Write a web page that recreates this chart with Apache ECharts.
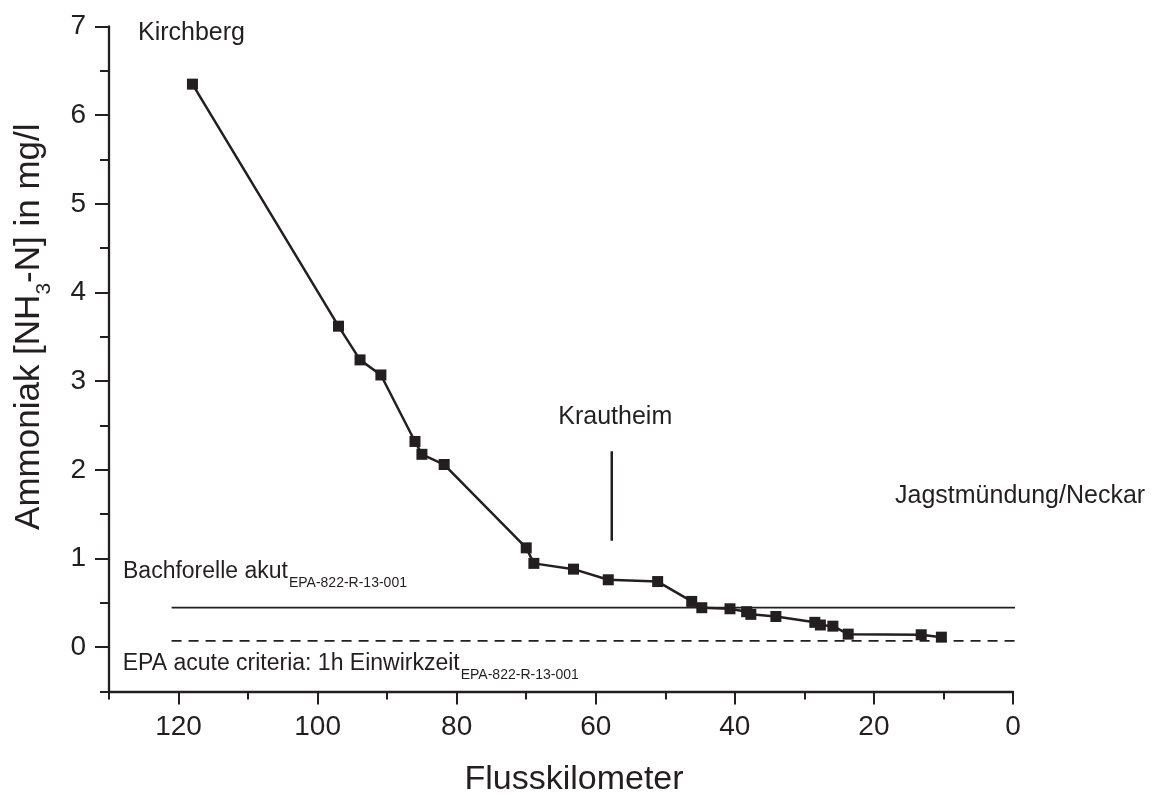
<!DOCTYPE html>
<html>
<head>
<meta charset="utf-8">
<script src="https://cdn.jsdelivr.net/npm/echarts@6/dist/echarts.min.js"></script>
<style>
html,body{margin:0;padding:0;background:#fff}
#chart{width:1168px;height:794px}
</style>
</head>
<body>
<div id="chart"></div>
<script type="text/javascript">
// Messpunkte entlang der Jagst
var km  = [118, 97.0, 93.9, 90.9, 86.0, 85.0, 81.8, 70.0, 68.9, 63.2, 58.2, 51.1, 46.2, 44.75, 40.7, 38.3, 37.7, 34.1, 28.5, 27.7, 25.9, 23.7, 13.2, 10.3];
var nh3 = [6.35, 3.62, 3.24, 3.07, 2.32, 2.175, 2.06, 1.12, 0.945, 0.88, 0.76, 0.74, 0.516, 0.445, 0.433, 0.40, 0.37, 0.346, 0.28, 0.25, 0.237, 0.147, 0.14, 0.113];

// Achsen
var xMajor = [0, 20, 40, 60, 80, 100, 120];
var xMinor = [10, 30, 50, 70, 90, 110, 130];
var yMajor = [0, 1, 2, 3, 4, 5, 6, 7];
var yMinor = [-0.5, 0.5, 1.5, 2.5, 3.5, 4.5, 5.5, 6.5];

// Markierung Krautheim
var krautheimKm = [57.7, 57.7];
var krautheimY  = [1.2, 2.21];

// Grenzwerte
var refKm = [121, -3];
var bachforelleAkut = 0.445;
var epaAcute = 0.07;

var ink = '#231f20';
var font = 'Liberation Sans, Arial, Helvetica, sans-serif';

function pairs(xs, ys) {
	return xs.map(function (x, i) { return [x, ys[i]]; });
}

// Textbreite messen (fuer die tiefgestellten Indizes)
var measureCtx = document.createElement('canvas').getContext('2d');
function textWidth(str, size) {
	measureCtx.font = size + 'px ' + font;
	return measureCtx.measureText(str).width;
}

function label(str, x, y, size, extra) {
	var el = {
		type: 'text', x: x, y: y, silent: true,
		style: {text: str, fontSize: size, fontFamily: font, fill: ink, align: 'left', verticalAlign: 'middle'}
	};
	if (extra) { for (var k in extra) el[k] = extra[k]; }
	return el;
}

// Text mit Index: Haupttext + kleiner, tiefer gesetzter Index
function labelWithSub(main, sub, x, yMain, ySub, size, subSize) {
	var w = textWidth(main, size);
	return [label(main, x, yMain, size), label(sub, x + w + 1, ySub, subSize)];
}

// y-Achsentitel, um 90 Grad gedreht
function yTitle() {
	var p1 = 'Ammoniak [NH', s = '3', p2 = '-N] in mg/l';
	var w1 = textWidth(p1, 35), ws = textWidth(s, 21), w2 = textWidth(p2, 35);
	var start = 326.7 + (w1 + ws + w2) / 2;
	var rot = {rotation: Math.PI / 2};
	return [
		label(p1, 29.6, start, 35, rot),
		label(s, 44.4, start - w1, 21, rot),
		label(p2, 29.6, start - w1 - ws, 35, rot)
	];
}

var myChart = echarts.init(document.getElementById('chart'), null, {renderer: 'canvas'});

var option = {
	animation: false,
	backgroundColor: '#fff',
	grid: {
		left: 109, right: 155, top: 26.5, bottom: 102.5,
		containLabel: false,
		outerBoundsMode: 'none'
	},
	xAxis: [
		{
			type: 'value', min: 0, max: 130, inverse: true, position: 'bottom',
			name: 'Flusskilometer', nameLocation: 'middle', nameGap: 71,
			nameMoveOverlap: false,
			nameTextStyle: {fontSize: 34, color: ink, fontFamily: font, padding: [0, 0, 0, 26]},
			axisLine: {show: true, onZero: false, lineStyle: {color: ink, width: 2.3}},
			axisTick: {show: true, customValues: xMajor, length: 13, lineStyle: {color: ink, width: 2}},
			axisLabel: {show: true, customValues: xMajor, margin: 22, fontSize: 28, color: ink, fontFamily: font},
			splitLine: {show: false}
		},
		{
			type: 'value', min: 0, max: 130, inverse: true, position: 'bottom',
			axisLine: {show: false, onZero: false},
			axisTick: {show: true, customValues: xMinor, length: 8, lineStyle: {color: ink, width: 2}},
			axisLabel: {show: false},
			splitLine: {show: false}
		}
	],
	yAxis: [
		{
			type: 'value', min: -0.5, max: 7, position: 'left',
			axisLine: {show: true, onZero: false, lineStyle: {color: ink, width: 2.3}},
			axisTick: {show: true, customValues: yMajor, length: 14, lineStyle: {color: ink, width: 2}},
			axisLabel: {show: true, customValues: yMajor, margin: 23, fontSize: 28, color: ink, fontFamily: font},
			splitLine: {show: false}
		},
		{
			type: 'value', min: -0.5, max: 7, position: 'left',
			axisLine: {show: false, onZero: false},
			axisTick: {show: true, customValues: yMinor, length: 9, lineStyle: {color: ink, width: 2}},
			axisLabel: {show: false},
			splitLine: {show: false}
		}
	],
	series: [
		{
			name: 'Ammoniak',
			type: 'line',
			data: pairs(km, nh3),
			symbol: 'rect',
			symbolSize: 11,
			lineStyle: {color: ink, width: 2.5},
			itemStyle: {color: ink},
			z: 5
		},
		{
			name: 'Krautheim',
			type: 'line',
			data: pairs(krautheimKm, krautheimY),
			symbol: 'none',
			lineStyle: {color: ink, width: 2.5}
		},
		{
			name: 'Bachforelle akut',
			type: 'line',
			clip: false,
			data: pairs(refKm, [bachforelleAkut, bachforelleAkut]),
			symbol: 'none',
			lineStyle: {color: ink, width: 1.7}
		},
		{
			name: 'EPA acute criteria',
			type: 'line',
			clip: false,
			data: pairs(refKm, [epaAcute, epaAcute]),
			symbol: 'none',
			lineStyle: {color: ink, width: 1.7, type: [10, 7]}
		}
	],
	graphic: [].concat(
		yTitle(),
		[label('Kirchberg', 138, 33, 25)],
		[label('Krautheim', 558.3, 417.3, 25)],
		[label('Jagstmündung/Neckar', 895, 496.3, 25)],
		labelWithSub('Bachforelle akut', 'EPA-822-R-13-001', 123, 572, 582.9, 23, 14),
		labelWithSub('EPA acute criteria: 1h Einwirkzeit', 'EPA-822-R-13-001', 122.7, 663.7, 675.2, 23, 14)
	)
};
myChart.setOption(option);
</script>
</body>
</html>
